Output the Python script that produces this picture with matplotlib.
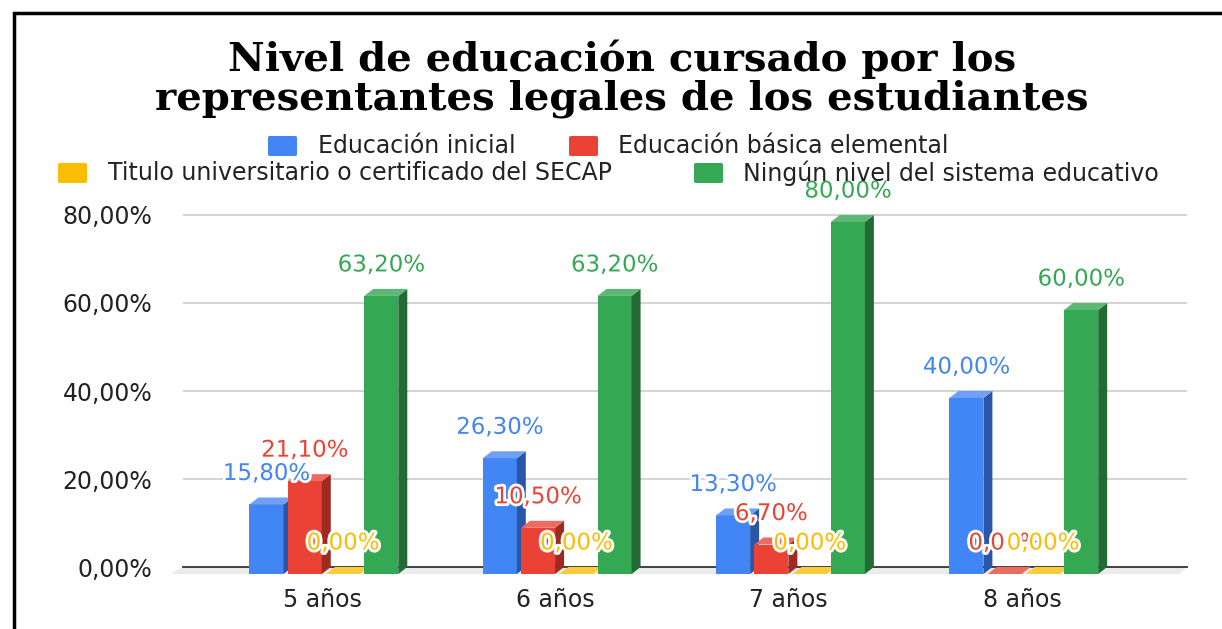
import matplotlib
matplotlib.use("Agg")
import matplotlib.pyplot as plt
import matplotlib.patheffects as pe
from matplotlib.patches import Polygon, Rectangle, FancyBboxPatch
import numpy as np

# datos del grafico
categorias = ["5 años", "6 años", "7 años", "8 años"]
series = ["Educación inicial", "Educación básica elemental",
          "Titulo universitario o certificado del SECAP",
          "Ningún nivel del sistema educativo"]
ed_inicial = [15.8, 26.3, 13.3, 40.0]
ed_basica = [21.1, 10.5, 6.7, 0.0]
titulo_univ = [0.0, 0.0, 0.0, 0.0]
ningun_nivel = [63.2, 63.2, 80.0, 60.0]
yticks = [0, 20, 40, 60, 80]

valores = [ed_inicial, ed_basica, titulo_univ, ningun_nivel]

# colores: frente, lado, tapa
colores = [("#4285F4", "#2A56A8", "#6FA0F6"),
           ("#EA4335", "#9E2A22", "#EE6B60"),
           ("#FBBC04", "#B08400", "#FCCB3A"),
           ("#34A853", "#226B35", "#5CB874")]

W, H = 1222, 629
fig = plt.figure(figsize=(W / 100, H / 100), dpi=100)

def fx(px):
    return px / W

def fy(py):
    return 1 - py / H

# ejes en pixeles: x 183-1187, y 205-580 ; 0% en y=567, 4.4 px por %
escala = 4.4
ax = fig.add_axes([fx(183), fy(580), fx(1187) - fx(183), (580 - 205) / H])
ax.set_xlim(-0.5958, 3.7077)
ax.set_ylim((567 - 580) / escala, (567 - 205) / escala)

for s in ax.spines.values():
    s.set_visible(False)

ax.set_yticks(yticks)
ax.set_yticklabels([f"{v:.2f}%".replace(".", ",") for v in yticks],
                   fontsize=17, family="DejaVu Sans", color="#222222")
ax.tick_params(axis="y", length=0, pad=22)
ax.set_xticks(range(len(categorias)))
ax.set_xticklabels(categorias, fontsize=17, family="DejaVu Sans", color="#222222")
ax.tick_params(axis="x", length=0, pad=6)

for v in yticks[1:]:
    ax.axhline(v, color="#cccccc", lw=1.2, zorder=0)

# profundidad 3D
DX = 9 / 233.3
DY = 7 / escala
ancho = 0.146

# piso
xl, xr = ax.get_xlim()
piso = Polygon([(xl - 0.055, -DY), (xr - 0.03, -DY), (xr, 0), (xl, 0)],
               closed=True, fc="#ebebeb", ec="none", zorder=1, clip_on=False)
ax.add_patch(piso)
ax.plot([xl, xr], [0, 0], color="#333333", lw=1.3, zorder=1.5, clip_on=False)

for i in range(len(categorias)):
    for k in range(4):
        v = valores[k][i]
        frente, lado, tapa = colores[k]
        xc = i + (k - 1.5) * 0.164 + 0.008
        x0 = xc - ancho / 2
        x1 = xc + ancho / 2
        z = 3 + i + k * 0.1
        if v > 0:
            ax.add_patch(Rectangle((x0, -DY), ancho, v, fc=frente, ec="none", zorder=z))
            ax.add_patch(Polygon([(x1, -DY), (x1 + DX, 0), (x1 + DX, v), (x1, v - DY)],
                                 closed=True, fc=lado, ec="none", zorder=z))
        ax.add_patch(Polygon([(x0, v - DY), (x0 + DX, v), (x1 + DX, v), (x1, v - DY)],
                             closed=True, fc=tapa, ec="none", zorder=z))

# etiquetas de valor
for k in range(4):
    for i in range(len(categorias)):
        v = valores[k][i]
        xc = i + (k - 1.5) * 0.164 + 0.008
        t = ax.text(xc, v + 24 / escala, f"{v:.2f}%".replace(".", ","),
                    ha="center", va="center", fontsize=16.5, family="DejaVu Sans",
                    color=colores[k][0], zorder=20, clip_on=False)
        t.set_path_effects([pe.withStroke(linewidth=4, foreground="white")])

# titulo
fig.text(fx(622), fy(59), "Nivel de educación cursado por los", ha="center", va="center",
         fontsize=29, fontweight="bold", family="DejaVu Serif", color="black")
fig.text(fx(622), fy(99), "representantes legales de los estudiantes", ha="center", va="center",
         fontsize=29, fontweight="bold", family="DejaVu Serif", color="black")

# leyenda manual
leyenda = [(268, 146, 318), (569, 146, 618), (58, 173, 108), (694, 173, 743)]
for k, (sx, sy, tx) in enumerate(leyenda):
    caja = FancyBboxPatch((fx(sx), fy(sy + 10)), fx(29), 20 / H,
                          boxstyle="round,pad=0,rounding_size=0.002",
                          transform=fig.transFigure, fc=colores[k][0], ec="none")
    fig.add_artist(caja)
    fig.text(fx(tx), fy(sy), series[k], ha="left", va="center",
             fontsize=17, family="DejaVu Sans", color="#222222")

# marco
fig.add_artist(Rectangle((fx(14), -0.1), 1.2, fy(13) + 0.1, transform=fig.transFigure,
                         fill=False, ec="black", lw=2.5))

fig.savefig("out.png", dpi=100, facecolor="white")
